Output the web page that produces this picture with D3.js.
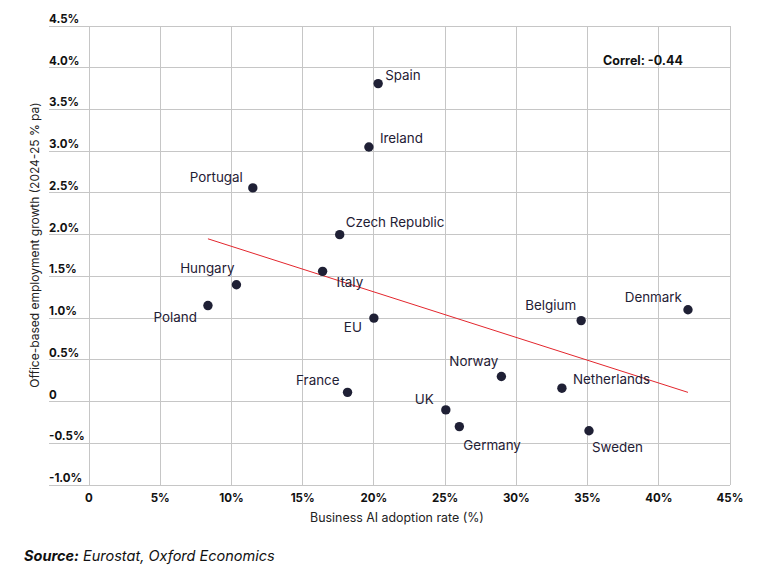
<!DOCTYPE html>
<html>
<head>
<meta charset="utf-8">
<script src="https://cdn.jsdelivr.net/npm/d3@7"></script>
<style>
  html, body { margin: 0; padding: 0; background: #fff; }
  svg { display: block; font-family: Inter, "Open Sans", sans-serif; }
</style>
</head>
<body>
<svg id="chart" width="772" height="570"></svg>
<script>
// ---- data ----
const countries = ["Spain","Ireland","Czech Republic","Portugal","Hungary","Poland","Italy","EU","France","UK","Germany","Norway","Netherlands","Sweden","Belgium","Denmark"];
const aiAdoption = [20.3, 19.65, 17.6, 11.5, 10.35, 8.35, 16.4, 20.0, 18.15, 25.05, 26.0, 28.95, 33.2, 35.1, 34.55, 42.05];
const officeGrowth = [3.81, 3.05, 2.0, 2.56, 1.40, 1.15, 1.56, 1.0, 0.11, -0.10, -0.30, 0.30, 0.16, -0.35, 0.97, 1.10];
const trendX = [8.35, 42.05];
const trendY = [1.95, 0.11];
const xTicks = [0, 5, 10, 15, 20, 25, 30, 35, 40, 45];
const xTickLabels = ["0","5%","10%","15%","20%","25%","30%","35%","40%","45%"];
const yTicks = [-1.0, -0.5, 0, 0.5, 1.0, 1.5, 2.0, 2.5, 3.0, 3.5, 4.0, 4.5];
const yTickLabels = ["-1.0%","-0.5%","0","0.5%","1.0%","1.5%","2.0%","2.5%","3.0%","3.5%","4.0%","4.5%"];
const correlText = "Correl: -0.44";

// ---- label placement (layout only) ----
const labelLayout = {
  "Spain": {dx: 7, dy: -8, anchor: "start"},
  "Ireland": {dx: 11, dy: -9, anchor: "start"},
  "Czech Republic": {dx: 6, dy: -12, anchor: "start"},
  "Portugal": {dx: -10, dy: -11, anchor: "end"},
  "Hungary": {dx: -2, dy: -16, anchor: "end"},
  "Poland": {dx: -11, dy: 12, anchor: "end"},
  "Italy": {dx: 14, dy: 11, anchor: "start"},
  "EU": {dx: -12, dy: 9, anchor: "end"},
  "France": {dx: -8, dy: -12, anchor: "end"},
  "UK": {dx: -12, dy: -11, anchor: "end"},
  "Germany": {dx: 4, dy: 19, anchor: "start"},
  "Norway": {dx: -3, dy: -15, anchor: "end"},
  "Netherlands": {dx: 11, dy: -9, anchor: "start"},
  "Sweden": {dx: 3, dy: 17, anchor: "start"},
  "Belgium": {dx: -5, dy: -15, anchor: "end"},
  "Denmark": {dx: -6, dy: -12, anchor: "end"}
};

const svg = d3.select("#chart");
const x = d3.scaleLinear().domain([0, 45]).range([89, 730]);
const y = d3.scaleLinear().domain([-1, 4.5]).range([485, 26]);
const gridLeft = 49;
const ink = "#1f2035";

// horizontal gridlines
svg.append("g").selectAll("line").data(yTicks).join("line")
  .attr("x1", gridLeft).attr("x2", x(45))
  .attr("y1", d => y(d)).attr("y2", d => y(d))
  .attr("stroke", "#c6c6c6").attr("stroke-width", 1).attr("shape-rendering", "crispEdges");

// vertical gridlines
svg.append("g").selectAll("line").data(xTicks).join("line")
  .attr("x1", d => x(d)).attr("x2", d => x(d))
  .attr("y1", y(4.5)).attr("y2", y(-1))
  .attr("stroke", "#c6c6c6").attr("stroke-width", 1).attr("shape-rendering", "crispEdges");

// y tick labels (above gridlines, left aligned)
svg.append("g").selectAll("text").data(yTicks).join("text")
  .attr("x", gridLeft).attr("y", d => y(d) - 3)
  .attr("font-size", 11.5).attr("font-weight", 700).attr("fill", "#111")
  .text((d, i) => yTickLabels[i]);

// x tick labels
svg.append("g").selectAll("text").data(xTicks).join("text")
  .attr("x", d => x(d)).attr("y", 502)
  .attr("text-anchor", "middle")
  .attr("font-size", 11.5).attr("font-weight", 700).attr("fill", "#111")
  .text((d, i) => xTickLabels[i]);

// axis titles
svg.append("text").attr("x", 397).attr("y", 522).attr("text-anchor", "middle")
  .attr("font-size", 12.4).attr("fill", "#222").text("Business AI adoption rate (%)");
svg.append("text").attr("transform", "translate(39,245) rotate(-90)")
  .attr("text-anchor", "middle").attr("font-size", 12).attr("fill", "#222")
  .text("Office-based employment growth (2024-25 % pa)");

// trend line
const line = d3.line().x(d => x(d[0])).y(d => y(d[1]));
svg.append("path").datum(trendX.map((v, i) => [v, trendY[i]]))
  .attr("d", line).attr("fill", "none").attr("stroke", "#e3262d").attr("stroke-width", 1);

// points
const pts = countries.map((c, i) => ({name: c, x: aiAdoption[i], y: officeGrowth[i]}));
svg.append("g").selectAll("circle").data(pts).join("circle")
  .attr("cx", d => x(d.x)).attr("cy", d => y(d.y)).attr("r", 4.7).attr("fill", ink);

// point labels
svg.append("g").selectAll("text").data(pts).join("text")
  .attr("x", d => x(d.x) + labelLayout[d.name].dx)
  .attr("y", d => y(d.y) + labelLayout[d.name].dy)
  .attr("dy", "0.35em")
  .attr("text-anchor", d => labelLayout[d.name].anchor)
  .attr("font-size", 13.4).attr("fill", ink)
  .text(d => d.name);

// correlation annotation
svg.append("text").attr("x", 603).attr("y", 65)
  .attr("font-size", 12.5).attr("font-weight", 700).attr("fill", "#111")
  .text(correlText);

// source
const src = svg.append("text").attr("x", 24).attr("y", 561).attr("font-size", 14.5).attr("font-style", "italic").attr("fill", "#111");
src.append("tspan").attr("font-weight", 700).text("Source:");
src.append("tspan").text(" Eurostat, Oxford Economics");
</script>
</body>
</html>
